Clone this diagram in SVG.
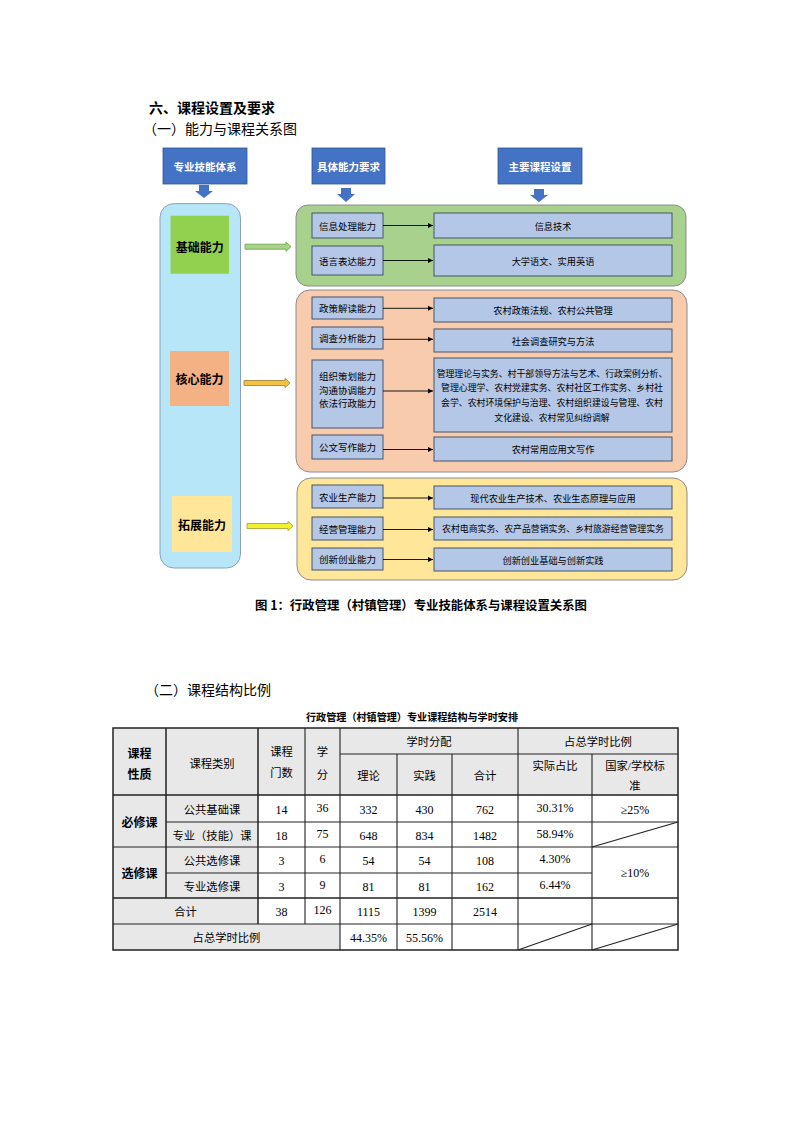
<svg xmlns="http://www.w3.org/2000/svg" width="793" height="1122" viewBox="0 0 793 1122">
<style>
text{font-family:"Noto Sans CJK SC","Noto Sans",sans-serif;fill:#000}
.c{text-anchor:middle;dominant-baseline:central}
.h{font-size:14px;font-weight:bold}
.s{font-size:14px}
.hb{fill:#4472C4;stroke:#2F5597;stroke-width:0.8}
.hbt{font-size:10.5px;font-weight:bold;fill:#fff}
.lab{font-size:12px;font-weight:bold}
.ib{fill:#B4C7E7;stroke:#44546A;stroke-width:1}
.it{font-size:9.5px}
.ct{font-size:9.2px}
.cl{font-size:8.9px}
.cont{stroke:#8C8C8C;stroke-width:1}
.ln{stroke:#000;stroke-width:0.9;fill:none}
.tb{font-family:"Liberation Serif","Noto Sans CJK SC",serif;font-size:12px}
.tz{font-size:11.3px}
.tbb{font-size:12px;font-weight:bold}
.g{fill:#E8E8E8}
.tl{stroke:#222;stroke-width:1.1;fill:none}
.to{stroke:#222;stroke-width:1.5;fill:none}
.da{fill:#4472C4}
</style>
<defs>
<marker id="ah" markerWidth="6" markerHeight="6" refX="5" refY="3" orient="auto" markerUnits="userSpaceOnUse">
<path d="M0,0.5 L5,3 L0,5.5 Z" fill="#000"/>
</marker>
</defs>
<rect width="793" height="1122" fill="#fff"/>

<g id="headings">
<text x="149" y="112.5" class="h">六、课程设置及要求</text>
<text x="143" y="133.5" class="s">（一）能力与课程关系图</text>
</g>

<g id="header-1"><rect class="hb" x="163" y="148" width="84" height="36"/><text class="c hbt" x="205" y="166">专业技能体系</text></g>
<g id="header-2"><rect class="hb" x="312" y="148" width="73" height="36"/><text class="c hbt" x="348.5" y="166">具体能力要求</text></g>
<g id="header-3"><rect class="hb" x="498" y="148" width="84" height="36"/><text class="c hbt" x="540" y="166">主要课程设置</text></g>

<g id="ability-column">
<rect x="160" y="203.6" width="80.5" height="364.4" rx="14" fill="#B6E6F8" stroke="#8AA3BD" stroke-width="1"/>
</g>
<g id="basic"><rect x="170.5" y="215.7" width="58.5" height="58" fill="#92D050"/><text class="c lab" x="199.7" y="246.5">基础能力</text></g>
<g id="core"><rect x="170" y="351" width="59" height="55" fill="#F4B183"/><text class="c lab" x="199.5" y="378.5">核心能力</text></g>
<g id="expand"><rect x="172" y="496" width="60" height="56" fill="#FFE699"/><text class="c lab" x="202" y="524.5">拓展能力</text></g>

<g id="basic-group">
<rect class="cont" x="296" y="205" width="390" height="81" rx="12" fill="#A9D18E"/>
<g id="a-info"><rect class="ib" x="312" y="213" width="71" height="25"/><text class="c it" x="347.5" y="225.5">信息处理能力</text></g>
<g id="c-info"><rect class="ib" x="434" y="213" width="238" height="25"/><text class="c ct" x="553" y="225.5">信息技术</text></g>
<g id="a-lang"><rect class="ib" x="312" y="246" width="71" height="29"/><text class="c it" x="347.5" y="260.5">语言表达能力</text></g>
<g id="c-lang"><rect class="ib" x="434" y="245" width="238" height="31"/><text class="c ct" x="553" y="260.5">大学语文、实用英语</text></g>
</g>

<g id="core-group">
<rect class="cont" x="296" y="290" width="391" height="182" rx="14" fill="#F8CBAD"/>
<g id="a-policy"><rect class="ib" x="312" y="297" width="71" height="22"/><text class="c it" x="347.5" y="308">政策解读能力</text></g>
<g id="c-policy"><rect class="ib" x="434" y="298" width="238" height="24"/><text class="c ct" x="553" y="310">农村政策法规、农村公共管理</text></g>
<g id="a-survey"><rect class="ib" x="312" y="327" width="71" height="22"/><text class="c it" x="347.5" y="338">调查分析能力</text></g>
<g id="c-survey"><rect class="ib" x="434" y="329" width="238" height="23"/><text class="c ct" x="553" y="340.5">社会调查研究与方法</text></g>
<g id="a-org"><rect class="ib" x="312" y="360" width="71" height="68"/>
<text class="c it" x="347.5" y="375.7">组织策划能力</text>
<text class="c it" x="347.5" y="389.5">沟通协调能力</text>
<text class="c it" x="347.5" y="403.3">依法行政能力</text></g>
<g id="c-org"><rect class="ib" x="434" y="358" width="238" height="74"/>
<text class="c cl" x="552" y="373">管理理论与实务、村干部领导方法与艺术、行政案例分析、</text>
<text class="c cl" x="552" y="387.5">管理心理学、农村党建实务、农村社区工作实务、乡村社</text>
<text class="c cl" x="552" y="402">会学、农村环境保护与治理、农村组织建设与管理、农村</text>
<text class="c cl" x="552" y="417">文化建设、农村常见纠纷调解</text></g>
<g id="a-write"><rect class="ib" x="312" y="435" width="71" height="24"/><text class="c it" x="347.5" y="447">公文写作能力</text></g>
<g id="c-write"><rect class="ib" x="434" y="437" width="238" height="24"/><text class="c ct" x="553" y="449">农村常用应用文写作</text></g>
</g>

<g id="expand-group">
<rect class="cont" x="297" y="478" width="390" height="102" rx="14" fill="#FFE699"/>
<g id="a-agri"><rect class="ib" x="312" y="485" width="71" height="23"/><text class="c it" x="347.5" y="496.5">农业生产能力</text></g>
<g id="c-agri"><rect class="ib" x="434" y="486" width="238" height="23"/><text class="c ct" x="553" y="497.5">现代农业生产技术、农业生态原理与应用</text></g>
<g id="a-biz"><rect class="ib" x="312" y="517" width="71" height="23"/><text class="c it" x="347.5" y="528.5">经营管理能力</text></g>
<g id="c-biz"><rect class="ib" x="434" y="517" width="238" height="23"/><text class="c cl" x="553" y="528.5">农村电商实务、农产品营销实务、乡村旅游经营管理实务</text></g>
<g id="a-inno"><rect class="ib" x="312" y="548" width="71" height="22"/><text class="c it" x="347.5" y="559">创新创业能力</text></g>
<g id="c-inno"><rect class="ib" x="434" y="548" width="238" height="23"/><text class="c ct" x="553" y="559.5">创新创业基础与创新实践</text></g>
</g>

<g id="connectors">
<path class="da" d="M199,185 H209 V191 H213 L204,198 L195,191 H199 Z"/>
<path class="da" d="M341,188 H351 V194 H355 L346,202 L337,194 H341 Z"/>
<path class="da" d="M534,189 H544 V195 H548 L539,202 L530,195 H534 Z"/>
<path d="M245,244.2 H286 V242 L291,246.7 L286,251.4 V249.2 H245 Z" fill="#A9D18E" stroke="#70AD47" stroke-width="0.9"/>
<path d="M244,380.5 H285 V378.3 L290,383 L285,387.7 V385.5 H244 Z" fill="#F4C242" stroke="#A6893A" stroke-width="0.9"/>
<path d="M247,523.5 H288 V521.3 L293,526 L288,530.7 V528.5 H247 Z" fill="#F2F22E" stroke="#A8A844" stroke-width="0.9"/>
<line class="ln" x1="383" y1="225.5" x2="433" y2="225.5" marker-end="url(#ah)"/>
<line class="ln" x1="383" y1="260.5" x2="433" y2="260.5" marker-end="url(#ah)"/>
<line class="ln" x1="383" y1="308.3" x2="433" y2="308.3" marker-end="url(#ah)"/>
<line class="ln" x1="383" y1="339.3" x2="433" y2="339.3" marker-end="url(#ah)"/>
<line class="ln" x1="383" y1="391" x2="433" y2="391" marker-end="url(#ah)"/>
<line class="ln" x1="383" y1="449.5" x2="433" y2="449.5" marker-end="url(#ah)"/>
<line class="ln" x1="383" y1="498" x2="433" y2="498" marker-end="url(#ah)"/>
<line class="ln" x1="383" y1="529.5" x2="433" y2="529.5" marker-end="url(#ah)"/>
<line class="ln" x1="383" y1="559.5" x2="433" y2="559.5" marker-end="url(#ah)"/>
</g>

<g id="caption">
<text x="255" y="609.5" style="font-size:12.5px;font-weight:bold" textLength="332" lengthAdjust="spacingAndGlyphs">图 1：行政管理（村镇管理）专业技能体系与课程设置关系图</text>
</g>

<g id="section-2">
<text x="145" y="695" class="s">（二）课程结构比例</text>
<text class="c" x="412" y="716" style="font-size:10.5px;font-weight:bold" textLength="212" lengthAdjust="spacingAndGlyphs">行政管理（村镇管理）专业课程结构与学时安排</text>
</g>

<g id="table">
<rect class="g" x="113" y="728" width="565" height="67"/>
<rect class="g" x="113" y="795" width="145" height="129"/>
<rect class="g" x="113" y="924" width="227" height="26"/>
<g id="table-lines">
<rect class="to" x="113" y="728" width="565" height="222"/>
<line class="tl" x1="340" y1="754" x2="678" y2="754"/>
<line class="to" x1="113" y1="795" x2="678" y2="795"/>
<line class="tl" x1="166" y1="822" x2="678" y2="822"/>
<line class="tl" x1="113" y1="847" x2="678" y2="847"/>
<line class="tl" x1="166" y1="873" x2="592" y2="873"/>
<line class="to" x1="113" y1="898" x2="678" y2="898"/>
<line class="tl" x1="113" y1="924" x2="678" y2="924"/>
<line class="to" x1="166" y1="728" x2="166" y2="898"/>
<line class="to" x1="258" y1="728" x2="258" y2="924"/>
<line class="tl" x1="305" y1="728" x2="305" y2="924"/>
<line class="tl" x1="340" y1="728" x2="340" y2="950"/>
<line class="tl" x1="397" y1="754" x2="397" y2="950"/>
<line class="tl" x1="452" y1="754" x2="452" y2="950"/>
<line class="tl" x1="518" y1="728" x2="518" y2="950"/>
<line class="tl" x1="592" y1="754" x2="592" y2="950"/>
<line class="tl" x1="592" y1="847" x2="678" y2="822"/>
<line class="tl" x1="518" y1="950" x2="592" y2="924"/>
<line class="tl" x1="592" y1="950" x2="678" y2="924"/>
</g>
<g id="table-header">
<text class="c tbb" x="139.5" y="752">课程</text>
<text class="c tbb" x="139.5" y="773">性质</text>
<text class="c tb tz" x="212" y="764">课程类别</text>
<text class="c tb tz" x="281.5" y="752">课程</text>
<text class="c tb tz" x="281.5" y="773">门数</text>
<text class="c tb tz" x="322.5" y="752">学</text>
<text class="c tb tz" x="322.5" y="775">分</text>
<text class="c tb tz" x="429" y="741.5">学时分配</text>
<text class="c tb tz" x="598" y="741.5">占总学时比例</text>
<text class="c tb tz" x="368.5" y="776">理论</text>
<text class="c tb tz" x="424.5" y="776">实践</text>
<text class="c tb tz" x="485" y="776">合计</text>
<text class="c tb tz" x="555" y="766">实际占比</text>
<text class="c tb tz" x="635" y="766">国家/学校标</text>
<text class="c tb tz" x="635" y="786">准</text>
</g>
<g id="table-body">
<text class="c tbb" x="139.5" y="821">必修课</text>
<text class="c tbb" x="139.5" y="872.5">选修课</text>
<text class="c tb tz" x="212" y="810">公共基础课</text>
<text class="c tb" x="281.5" y="810">14</text>
<text class="c tb" x="322.5" y="808">36</text>
<text class="c tb" x="368.5" y="810">332</text>
<text class="c tb" x="424.5" y="810">430</text>
<text class="c tb" x="485" y="810">762</text>
<text class="c tb" x="555" y="808">30.31%</text>
<text class="c tb" x="635" y="810">≥25%</text>
<text class="c tb tz" x="212" y="835.5">专业（技能）课</text>
<text class="c tb" x="281.5" y="835.5">18</text>
<text class="c tb" x="322.5" y="833.5">75</text>
<text class="c tb" x="368.5" y="835.5">648</text>
<text class="c tb" x="424.5" y="835.5">834</text>
<text class="c tb" x="485" y="835.5">1482</text>
<text class="c tb" x="555" y="833.5">58.94%</text>
<text class="c tb tz" x="212" y="861">公共选修课</text>
<text class="c tb" x="281.5" y="861">3</text>
<text class="c tb" x="322.5" y="859">6</text>
<text class="c tb" x="368.5" y="861">54</text>
<text class="c tb" x="424.5" y="861">54</text>
<text class="c tb" x="485" y="861">108</text>
<text class="c tb" x="555" y="859">4.30%</text>
<text class="c tb" x="635" y="873">≥10%</text>
<text class="c tb tz" x="212" y="886.5">专业选修课</text>
<text class="c tb" x="281.5" y="886.5">3</text>
<text class="c tb" x="322.5" y="884.5">9</text>
<text class="c tb" x="368.5" y="886.5">81</text>
<text class="c tb" x="424.5" y="886.5">81</text>
<text class="c tb" x="485" y="886.5">162</text>
<text class="c tb" x="555" y="884.5">6.44%</text>
<text class="c tb tz" x="185.5" y="911.5">合计</text>
<text class="c tb" x="281.5" y="912">38</text>
<text class="c tb" x="322.5" y="910">126</text>
<text class="c tb" x="368.5" y="912">1115</text>
<text class="c tb" x="424.5" y="912">1399</text>
<text class="c tb" x="485" y="912">2514</text>
<text class="c tb tz" x="226.5" y="937.5">占总学时比例</text>
<text class="c tb" x="368.5" y="937.5">44.35%</text>
<text class="c tb" x="424.5" y="937.5">55.56%</text>
</g>
</g>
</svg>
